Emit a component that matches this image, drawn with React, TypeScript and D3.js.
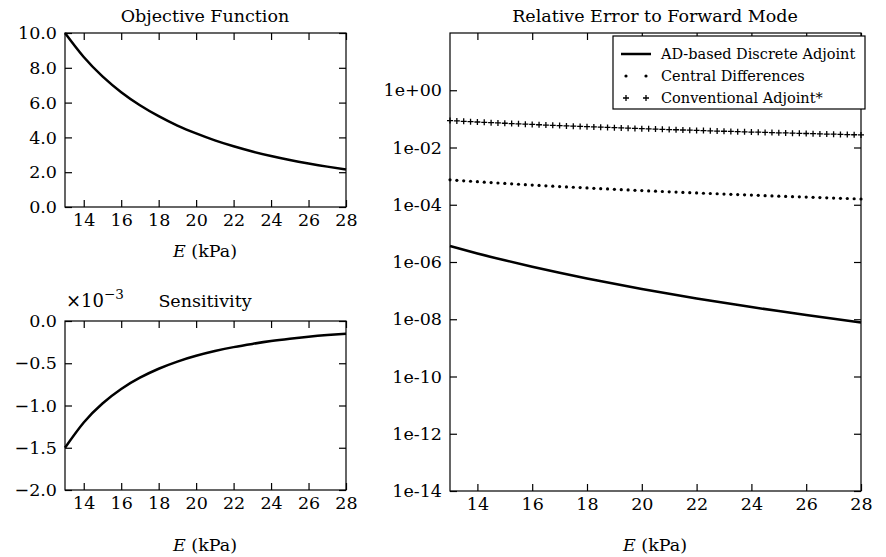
import React, { useEffect, useRef } from 'react';
import * as d3 from 'd3';

// E values (kPa) for the smooth curves
const eLine = [13, 14, 15, 16, 17, 18, 19, 20, 21, 22, 23, 24, 25, 26, 27, 28];
const objective = [10.0, 8.62, 7.51, 6.6, 5.85, 5.22, 4.68, 4.23, 3.83, 3.49, 3.19, 2.93, 2.7, 2.5, 2.32, 2.16];
// sensitivity in units of 1e-3
const sensitivity = [-1.5, -1.201, -0.976, -0.804, -0.671, -0.565, -0.48, -0.412, -0.356, -0.309, -0.271, -0.238, -0.211, -0.187, -0.167, -0.15];
const adError = [3.6e-6, 1.99e-6, 1.146e-6, 6.84e-7, 4.21e-7, 2.665e-7, 1.729e-7, 1.147e-7, 7.77e-8, 5.35e-8, 3.75e-8, 2.668e-8, 1.925e-8, 1.406e-8, 1.04e-8, 7.77e-9];

// E values (kPa) for the marker series
const eMark = [
  13, 13.25, 13.5, 13.75, 14, 14.25, 14.5, 14.75, 15, 15.25, 15.5, 15.75, 16, 16.25, 16.5, 16.75,
  17, 17.25, 17.5, 17.75, 18, 18.25, 18.5, 18.75, 19, 19.25, 19.5, 19.75, 20, 20.25, 20.5, 20.75,
  21, 21.25, 21.5, 21.75, 22, 22.25, 22.5, 22.75, 23, 23.25, 23.5, 23.75, 24, 24.25, 24.5, 24.75,
  25, 25.25, 25.5, 25.75, 26, 26.25, 26.5, 26.75, 27, 27.25, 27.5, 27.75, 28,
];
const centralError = [
  7.4e-4, 7.12e-4, 6.86e-4, 6.61e-4, 6.38e-4, 6.16e-4, 5.95e-4, 5.75e-4, 5.56e-4, 5.37e-4, 5.2e-4, 5.04e-4,
  4.88e-4, 4.73e-4, 4.59e-4, 4.46e-4, 4.33e-4, 4.2e-4, 4.08e-4, 3.97e-4, 3.86e-4, 3.75e-4, 3.65e-4, 3.56e-4,
  3.46e-4, 3.37e-4, 3.29e-4, 3.2e-4, 3.13e-4, 3.05e-4, 2.97e-4, 2.9e-4, 2.83e-4, 2.77e-4, 2.7e-4, 2.64e-4,
  2.58e-4, 2.52e-4, 2.47e-4, 2.42e-4, 2.36e-4, 2.31e-4, 2.26e-4, 2.22e-4, 2.17e-4, 2.13e-4, 2.08e-4, 2.04e-4,
  2.0e-4, 1.96e-4, 1.92e-4, 1.89e-4, 1.85e-4, 1.81e-4, 1.78e-4, 1.75e-4, 1.71e-4, 1.68e-4, 1.65e-4, 1.62e-4, 1.59e-4,
];
const conventionalError = [
  8.7e-2, 8.46e-2, 8.23e-2, 8.0e-2, 7.79e-2, 7.58e-2, 7.39e-2, 7.2e-2, 7.02e-2, 6.85e-2, 6.69e-2, 6.53e-2,
  6.38e-2, 6.23e-2, 6.09e-2, 5.95e-2, 5.82e-2, 5.69e-2, 5.57e-2, 5.46e-2, 5.34e-2, 5.23e-2, 5.13e-2, 5.03e-2,
  4.93e-2, 4.83e-2, 4.74e-2, 4.65e-2, 4.56e-2, 4.48e-2, 4.4e-2, 4.32e-2, 4.24e-2, 4.17e-2, 4.09e-2, 4.02e-2,
  3.95e-2, 3.89e-2, 3.82e-2, 3.76e-2, 3.7e-2, 3.64e-2, 3.58e-2, 3.53e-2, 3.47e-2, 3.42e-2, 3.36e-2, 3.31e-2,
  3.26e-2, 3.22e-2, 3.17e-2, 3.12e-2, 3.08e-2, 3.03e-2, 2.99e-2, 2.95e-2, 2.91e-2, 2.87e-2, 2.83e-2, 2.79e-2, 2.75e-2,
];

const xTicks = [14, 16, 18, 20, 22, 24, 26, 28];
const objTicks = [0, 2, 4, 6, 8, 10];
const sensTicks = [-2, -1.5, -1, -0.5, 0];
const errTicks = [1e-14, 1e-12, 1e-10, 1e-8, 1e-6, 1e-4, 1e-2, 1e0];
const legendLabels = ['AD-based Discrete Adjoint', 'Central Differences', 'Conventional Adjoint*'];

const FONT = 'DejaVu Serif';
const TICK = 7;
const FS = 17.5;

export default function App() {
  const svgRef = useRef(null);

  useEffect(() => {
    document.body.style.margin = '0';
    const svg = d3.select(svgRef.current);
    svg.selectAll('*').remove();

    const xL = d3.scaleLinear().domain([13, 28]).range([65, 346]);
    const yObj = d3.scaleLinear().domain([0, 10]).range([207, 33]);
    const ySens = d3.scaleLinear().domain([-2, 0]).range([490, 321]);
    const xR = d3.scaleLinear().domain([13, 28]).range([450, 861]);
    const yErr = d3.scaleLog().domain([1e-14, 1e2]).range([491, 33]);

    const minus = (s) => s.replace('-', '\u2212');

    // boxed panel with inward ticks on all four sides
    const panel = (x, y, xVals, yVals, yFmt) => {
      const [x0, x1] = x.range();
      const [y0, y1] = y.range();
      const g = svg.append('g');
      g.append('g').attr('transform', `translate(0,${y0})`)
        .call(d3.axisBottom(x).tickValues(xVals).tickSize(-TICK).tickPadding(7).tickFormat(d3.format('d')));
      g.append('g').attr('transform', `translate(0,${y1})`)
        .call(d3.axisTop(x).tickValues(xVals).tickSize(-TICK).tickFormat(() => ''));
      g.append('g').attr('transform', `translate(${x0},0)`)
        .call(d3.axisLeft(y).tickValues(yVals).tickSize(-TICK).tickPadding(8).tickFormat(yFmt));
      g.append('g').attr('transform', `translate(${x1},0)`)
        .call(d3.axisRight(y).tickValues(yVals).tickSize(-TICK).tickFormat(() => ''));
      g.selectAll('.domain').remove();
      g.selectAll('.tick line').attr('stroke', '#000').attr('stroke-width', 1.2);
      g.selectAll('.tick text').attr('font-family', FONT).attr('font-size', FS).attr('fill', '#000');
      g.append('rect')
        .attr('x', x0).attr('y', y1).attr('width', x1 - x0).attr('height', y0 - y1)
        .attr('fill', 'none').attr('stroke', '#000').attr('stroke-width', 1.2);
      return g;
    };

    const title = (txt, cx, y) =>
      svg.append('text').attr('x', cx).attr('y', y).attr('text-anchor', 'middle')
        .attr('font-family', FONT).attr('font-size', FS).text(txt);

    const xLabel = (cx, y) => {
      const t = svg.append('text').attr('x', cx).attr('y', y).attr('text-anchor', 'middle')
        .attr('font-family', FONT).attr('font-size', FS);
      t.append('tspan').attr('font-style', 'italic').text('E');
      t.append('tspan').text(' (kPa)');
    };

    const curve = (xs, ys, vals) =>
      svg.append('path').datum(eLine.map((e, i) => [e, vals[i]]))
        .attr('d', d3.line().x((d) => xs(d[0])).y((d) => ys(d[1])).curve(d3.curveNatural))
        .attr('fill', 'none').attr('stroke', '#000').attr('stroke-width', 2.5);

    // Objective function
    panel(xL, yObj, xTicks, objTicks, d3.format('.1f'));
    curve(xL, yObj, objective);
    title('Objective Function', 205, 22);
    xLabel(205, 257);

    // Sensitivity
    panel(xL, ySens, xTicks, sensTicks, (d) => minus(d3.format('.1f')(d)));
    curve(xL, ySens, sensitivity);
    title('Sensitivity', 205, 307);
    const off = svg.append('text').attr('x', 66).attr('y', 307)
      .attr('font-family', FONT).attr('font-size', 18);
    off.append('tspan').text('\u00d710');
    off.append('tspan').attr('font-size', 13.5).attr('dy', -8).text('\u22123');
    xLabel(205, 551);

    // Relative error
    const fmtExp = (d) => {
      const e = Math.round(Math.log10(d));
      return `1e${e < 0 ? '-' : '+'}${String(Math.abs(e)).padStart(2, '0')}`;
    };
    panel(xR, yErr, xTicks, errTicks, fmtExp);
    title('Relative Error to Forward Mode', 655, 22);
    xLabel(655, 551);

    curve(xR, yErr, adError);

    svg.append('g').selectAll('circle')
      .data(eMark.map((e, i) => [e, centralError[i]]))
      .enter().append('circle')
      .attr('cx', (d) => xR(d[0])).attr('cy', (d) => yErr(d[1]))
      .attr('r', 1.6).attr('fill', '#000');

    const plusPath = (cx, cy, s) => `M${cx - s},${cy}H${cx + s}M${cx},${cy - s}V${cy + s}`;
    svg.append('g').selectAll('path')
      .data(eMark.map((e, i) => [e, conventionalError[i]]))
      .enter().append('path')
      .attr('d', (d) => plusPath(xR(d[0]), yErr(d[1]), 3))
      .attr('stroke', '#000').attr('stroke-width', 1.3).attr('fill', 'none');

    // Legend
    const lg = svg.append('g');
    lg.append('rect').attr('x', 613).attr('y', 36).attr('width', 252).attr('height', 73)
      .attr('fill', '#fff').attr('stroke', '#000').attr('stroke-width', 1.2);
    legendLabels.forEach((lab, i) => {
      const cy = 54 + i * 22;
      if (i === 0) {
        lg.append('line').attr('x1', 621).attr('x2', 651).attr('y1', cy).attr('y2', cy)
          .attr('stroke', '#000').attr('stroke-width', 2.5);
      } else if (i === 1) {
        [626, 646].forEach((cx) => lg.append('circle').attr('cx', cx).attr('cy', cy).attr('r', 1.6).attr('fill', '#000'));
      } else {
        [626, 646].forEach((cx) => lg.append('path').attr('d', plusPath(cx, cy, 3))
          .attr('stroke', '#000').attr('stroke-width', 1.3));
      }
      lg.append('text').attr('x', 661).attr('y', cy).attr('dy', '0.35em')
        .attr('font-family', FONT).attr('font-size', 14.5).text(lab);
    });
  }, []);

  return (
    <div>
      <svg width={886} height={557} ref={svgRef} style={{ display: 'block', background: '#fff' }} />
    </div>
  );
}
